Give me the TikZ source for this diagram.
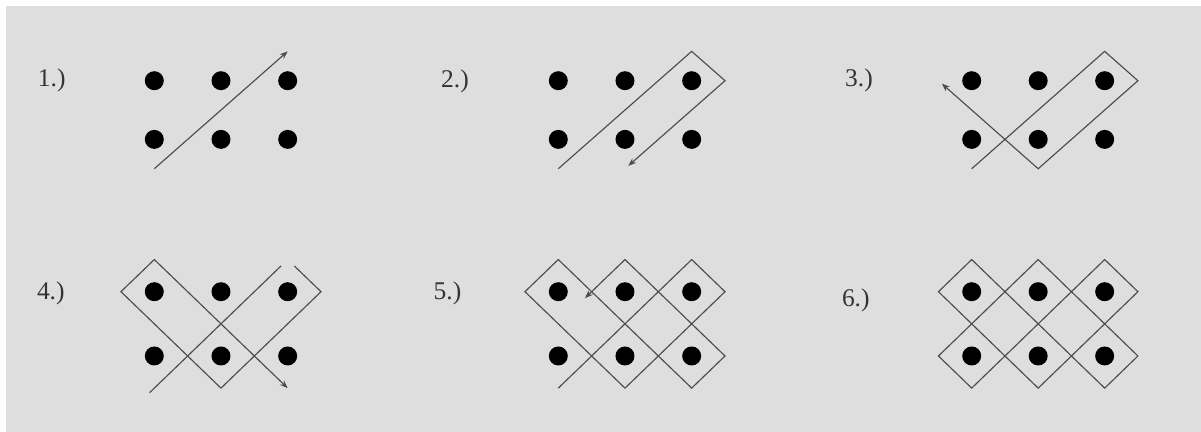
\documentclass[tikz,border=0pt]{standalone}
\usepackage{fontspec}
\setmainfont{Liberation Serif}
\usetikzlibrary{arrows.meta}
\definecolor{paper}{RGB}{222,222,222}
\tikzset{
  dotn/.style={circle,fill=black,inner sep=0pt,minimum size=3.8mm},
  tour/.style={line width=0.65pt,black!70},
  tourend/.style={tour,-{Stealth[length=1.6mm,width=1.2mm]}},
  stepno/.style={font=\fontsize{14.5}{16}\selectfont,text=black!80,inner sep=0pt},
}

\begin{document}
\begin{tikzpicture}[x=0.02cm,y=-0.02cm]
  \useasboundingbox (0,0) rectangle (1201,432);
  \fill[paper] (6,6) rectangle (1201,432);
  % step numbers
  \node[stepno] (n1) at (51.7,80) {1.)};
  \node[stepno] (n2) at (455,81.7) {2.)};
  \node[stepno] (n3) at (859,80) {3.)};
  \node[stepno] (n4) at (50.8,293) {4.)};
  \node[stepno] (n5) at (447.5,293) {5.)};
  \node[stepno] (n6) at (855.8,300) {6.)};
  % 1.) first stroke
  \begin{scope}[shift={(154.3,80.7)},x=1.334cm,y=-1.174cm]
    \foreach \i in {0,1,2}{\foreach \j in {0,1}{\node[dotn] (a\i\j) at (\i,\j) {};}}
    \draw[tourend] (0,1.5)--(2,-0.5);
  \end{scope}
  % 2.) turn round the corner
  \begin{scope}[shift={(558.3,80.7)},x=1.334cm,y=-1.174cm]
    \foreach \i in {0,1,2}{\foreach \j in {0,1}{\node[dotn] (b\i\j) at (\i,\j) {};}}
    \draw[tourend] (0,1.5)--(2,-0.5)--(2.5,0)--(1.05,1.45);
  \end{scope}
  % 3.)
  \begin{scope}[shift={(971.7,80.7)},x=1.33cm,y=-1.174cm]
    \foreach \i in {0,1,2}{\foreach \j in {0,1}{\node[dotn] (c\i\j) at (\i,\j) {};}}
    \draw[tourend] (0,1.5)--(2,-0.5)--(2.5,0)--(1,1.5)--(-0.45,0.05);
  \end{scope}
  % 4.) top corner left open
  \begin{scope}[shift={(154.3,291.7)},x=1.334cm,y=-1.286cm]
    \foreach \i in {0,1,2}{\foreach \j in {0,1}{\node[dotn] (d\i\j) at (\i,\j) {};}}
    \draw[tour] (-0.07,1.57)--(1.9,-0.4);
    \draw[tourend] (2.1,-0.4)--(2.5,0)--(1,1.5)--(-0.5,0)--(0,-0.5)--(2,1.5);
  \end{scope}
  % 5.)
  \begin{scope}[shift={(558.3,291.7)},x=1.334cm,y=-1.286cm]
    \foreach \i in {0,1,2}{\foreach \j in {0,1}{\node[dotn] (e\i\j) at (\i,\j) {};}}
    \draw[tourend] (0,1.5)--(2,-0.5)--(2.5,0)--(1,1.5)--(-0.5,0)--(0,-0.5)
      --(2,1.5)--(2.5,1)--(1,-0.5)--(0.4,0.1);
  \end{scope}
  % 6.) closed tour
  \begin{scope}[shift={(971.7,291.7)},x=1.33cm,y=-1.286cm]
    \foreach \i in {0,1,2}{\foreach \j in {0,1}{\node[dotn] (f\i\j) at (\i,\j) {};}}
    \draw[tour] (0,1.5)--(2,-0.5)--(2.5,0)--(1,1.5)--(-0.5,0)--(0,-0.5)
      --(2,1.5)--(2.5,1)--(1,-0.5)--(-0.5,1)--cycle;
  \end{scope}
\end{tikzpicture}
\end{document}
